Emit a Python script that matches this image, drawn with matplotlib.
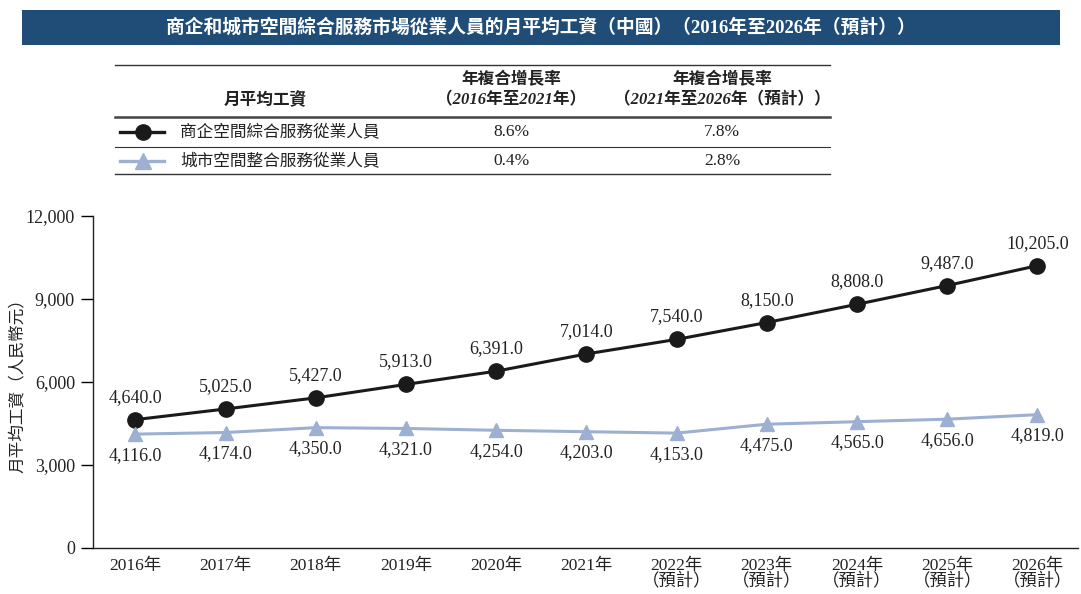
import matplotlib
matplotlib.use("Agg")
import matplotlib.pyplot as plt
from matplotlib.lines import Line2D
from matplotlib.patches import Rectangle

years = ["2016年", "2017年", "2018年", "2019年", "2020年", "2021年",
         "2022年\n（預計）", "2023年\n（預計）", "2024年\n（預計）", "2025年\n（預計）", "2026年\n（預計）"]
commercial = [4640.0, 5025.0, 5427.0, 5913.0, 6391.0, 7014.0, 7540.0, 8150.0, 8808.0, 9487.0, 10205.0]
urban = [4116.0, 4174.0, 4350.0, 4321.0, 4254.0, 4203.0, 4153.0, 4475.0, 4565.0, 4656.0, 4819.0]
series_names = ["商企空間綜合服務從業人員", "城市空間整合服務從業人員"]
cagr_1 = ["8.6%", "0.4%"]
cagr_2 = ["7.8%", "2.8%"]

FONT = ["Liberation Serif", "Noto Sans CJK TC"]
plt.rcParams["font.family"] = FONT

W, H = 1081, 594
fig = plt.figure(figsize=(W / 100, H / 100), dpi=100)

def fx(px):
    return px / W

def fy(py):
    return 1 - py / H

black = "#1a1a1a"
blue = "#9db0d2"
txt = "#222222"

# title bar
fig.add_artist(Rectangle((fx(22), fy(45)), fx(1060) - fx(22), fy(10) - fy(45),
                         transform=fig.transFigure, color="#1f4d78", lw=0))
fig.text(fx(541), fy(27), "商企和城市空間綜合服務市場從業人員的月平均工資（中國）（2016年至2026年（預計））",
         ha="center", va="center", color="white", fontsize=13.5, fontweight="bold")

# table
def hline(py, lw, color="#333333"):
    fig.add_artist(Line2D([fx(115), fx(830)], [fy(py), fy(py)], transform=fig.transFigure,
                          color=color, lw=lw))

hline(65, 1.0)
hline(117, 1.8, "#444444")
hline(147, 0.8)
hline(174, 1.0)

c2x, c3x = 511, 722
hdr = dict(ha="center", va="center", fontsize=12, style="italic", fontweight="bold", color=txt)
fig.text(fx(265), fy(101), "月平均工資", **hdr)
fig.text(fx(c2x), fy(80), "年複合增長率", **hdr)
fig.text(fx(c2x), fy(100), "（2016年至2021年）", **hdr)
fig.text(fx(c3x), fy(80), "年複合增長率", **hdr)
fig.text(fx(c3x), fy(100), "（2021年至2026年（預計））", **hdr)

rows_y = [132, 161]
styles = [(black, "o", 2.4, 11), (blue, "^", 2.4, 11)]
for ry, name, c1, c2, (col, mk, lw, ms) in zip(rows_y, series_names, cagr_1, cagr_2, styles):
    fig.add_artist(Line2D([fx(120), fx(164)], [fy(ry), fy(ry)], transform=fig.transFigure,
                          color=col, lw=lw))
    fig.add_artist(Line2D([fx(143)], [fy(ry)], transform=fig.transFigure,
                          color=col, marker=mk, ms=ms, lw=0))
    fig.text(fx(180), fy(ry), name, ha="left", va="center", fontsize=12, color=txt)
    fig.text(fx(c2x), fy(ry), c1, ha="center", va="center", fontsize=12.5, color=txt)
    fig.text(fx(c3x), fy(ry), c2, ha="center", va="center", fontsize=12.5, color=txt)

# chart
ax = fig.add_axes([fx(93), fy(548), fx(1078) - fx(93), fy(216) - fy(548)])
x = list(range(len(years)))
ax.plot(x, commercial, color=black, lw=2.2, marker="o", ms=11, zorder=3)
ax.plot(x, urban, color=blue, lw=2.2, marker="^", ms=10, zorder=3)

for xi, v in zip(x, commercial):
    ax.annotate(f"{v:,.1f}", (xi, v), xytext=(0, 10), textcoords="offset points",
                ha="center", va="bottom", fontsize=13, color=txt)
for xi, v in zip(x, urban):
    ax.annotate(f"{v:,.1f}", (xi, v), xytext=(0, -9), textcoords="offset points",
                ha="center", va="top", fontsize=13, color=txt)

ax.set_xlim(-0.47, 10.45)
ax.set_ylim(0, 12000)
ticks = [0, 3000, 6000, 9000, 12000]
ax.set_yticks(ticks)
ax.set_yticklabels([f"{t:,}" for t in ticks], fontsize=13, color=txt)
ax.set_xticks(x)
ax.set_xticklabels(years, fontsize=12.5, linespacing=1.0, color=txt)
ax.tick_params(axis="x", length=0, pad=7)
ax.tick_params(axis="y", length=9, width=1, direction="out", pad=4)
for s in ["top", "right"]:
    ax.spines[s].set_visible(False)
for s in ["left", "bottom"]:
    ax.spines[s].set_linewidth(1.0)
    ax.spines[s].set_color("#222222")

fig.text(fx(18), fy(382), "月平均工資（人民幣元）", rotation=90, ha="center", va="center",
         fontsize=12, color=txt)

fig.savefig("out.png", dpi=100)
